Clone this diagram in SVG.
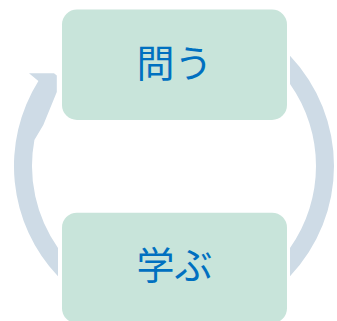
<svg xmlns="http://www.w3.org/2000/svg" width="337" height="321" viewBox="0 0 337 321">
  <style>
    .arc { fill: #CEDBE6; }
    .box { fill: #C8E4DA; }
    .lbl { font-family: "Noto Sans CJK JP", "Noto Sans", sans-serif; font-size: 38px; fill: #0070C0; text-anchor: middle; dominant-baseline: central; }
  </style>
  <rect width="337" height="321" fill="#FFFFFF"/>
  <g id="connectors">
    <path class="arc" d="M 290,55.8 A 160 160 0 0 1 290,276.2 L 290,247.9 A 142 142 0 0 0 290,84.1 Z"/>
    <path class="arc" d="M 58,276.2 A 160 160 0 0 1 38.4,81 L 29,73.3 L 54,73.3 L 56.8,75.5 L 56.8,92 L 43.3,125 L 34.4,140 A 142 142 0 0 0 58,247.9 Z"/>
  </g>
  <g id="node-tou">
    <rect class="box" x="62" y="9.5" width="225" height="110.5" rx="15" ry="15"/>
    <text class="lbl" x="174.5" y="60">問う</text>
  </g>
  <g id="node-manabu">
    <rect class="box" x="62" y="212.7" width="225" height="110.5" rx="15" ry="15"/>
    <text class="lbl" x="174.5" y="262">学ぶ</text>
  </g>
</svg>
